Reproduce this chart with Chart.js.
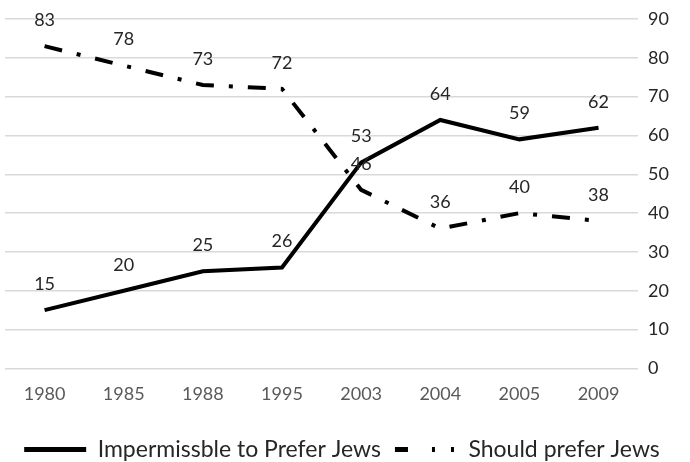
<!DOCTYPE html>
<html>
<head>
<meta charset="utf-8">
<script src="https://cdn.jsdelivr.net/npm/chart.js@4"></script>
<style>
  html, body { margin: 0; padding: 0; background: #ffffff; }
  #wrap { width: 690px; height: 462px; }
</style>
</head>
<body>
<div id="wrap"><canvas id="chart" width="690" height="462"></canvas></div>
<script>
const years = ["1980", "1985", "1988", "1995", "2003", "2004", "2005", "2009"];
const impermissible = [15, 20, 25, 26, 53, 64, 59, 62];
const shouldPrefer = [83, 78, 73, 72, 46, 36, 40, 38];
const seriesNames = ["Impermissble to Prefer Jews", "Should prefer Jews"];

const FONT = "Lato, 'Open Sans', sans-serif";
const lineDashes = [[], [18, 15, 4, 15]];
const legendDashes = [[], [13, 24, 3, 16, 3, 40]];

// draws the value above each point
const valueLabels = {
  id: "valueLabels",
  afterDatasetsDraw(chart) {
    const ctx = chart.ctx;
    ctx.save();
    ctx.font = "18px " + FONT;
    ctx.fillStyle = "#262626";
    ctx.textAlign = "center";
    ctx.textBaseline = "middle";
    chart.data.datasets.forEach((ds, i) => {
      const meta = chart.getDatasetMeta(i);
      meta.data.forEach((pt, j) => {
        ctx.fillText(String(ds.data[j]), pt.x, pt.y - 26);
      });
    });
    ctx.restore();
  },
};

new Chart(document.getElementById("chart").getContext("2d"), {
  type: "line",
  data: {
    labels: years,
    datasets: [
      {
        label: seriesNames[0],
        data: impermissible,
        borderColor: "#000000",
        backgroundColor: "#000000",
        borderWidth: 4,
        borderDash: lineDashes[0],
        pointRadius: 0,
        tension: 0,
      },
      {
        label: seriesNames[1],
        data: shouldPrefer,
        borderColor: "#000000",
        backgroundColor: "#000000",
        borderWidth: 4,
        borderDash: lineDashes[1],
        pointRadius: 0,
        tension: 0,
      },
    ],
  },
  options: {
    responsive: false,
    animation: false,
    layout: { padding: { top: 8, left: 5, right: 11, bottom: -9 } },
    plugins: {
      legend: {
        position: "bottom",
        labels: {
          usePointStyle: true,
          pointStyle: "line",
          pointStyleWidth: 62,
          color: "#262626",
          padding: 14,
          font: { family: FONT, size: 23 },
          generateLabels(chart) {
            const items = Chart.defaults.plugins.legend.labels.generateLabels(chart);
            items.forEach((it, i) => {
              it.lineWidth = 5;
              it.lineDash = legendDashes[i];
              it.strokeStyle = "#000000";
              it.fillStyle = "#000000";
              it.pointStyle = "line";
            });
            return items;
          },
        },
      },
      tooltip: { enabled: false },
    },
    scales: {
      x: {
        offset: true,
        grid: { display: false },
        border: { display: false },
        ticks: { color: "#595959", font: { family: FONT, size: 18 }, padding: 7 },
        afterFit(scale) {
          scale.height += 12;
        },
      },
      y: {
        position: "right",
        min: 0,
        max: 90,
        grid: { color: "#d9d9d9", lineWidth: 1.5, drawTicks: false },
        border: { display: false },
        ticks: { stepSize: 10, color: "#262626", font: { family: FONT, size: 18, lineHeight: 1 }, padding: 10 },
      },
    },
  },
  plugins: [valueLabels],
});
</script>
</body>
</html>
